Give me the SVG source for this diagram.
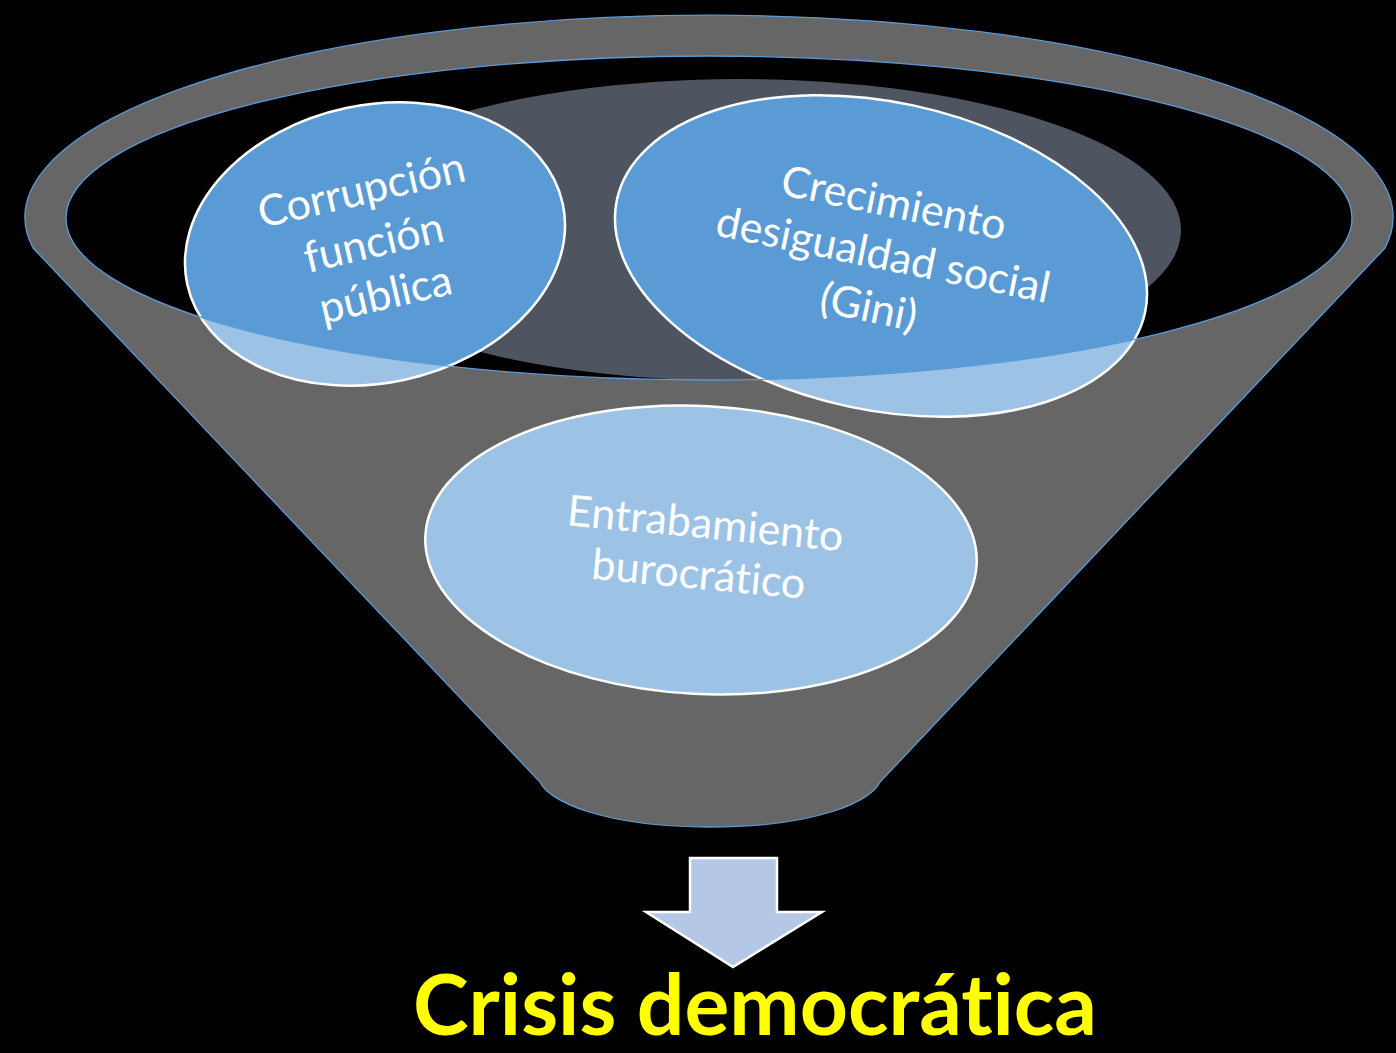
<svg xmlns="http://www.w3.org/2000/svg" width="1396" height="1053" viewBox="0 0 1396 1053">
  <style>
    text { font-variant-ligatures: none; font-feature-settings: "liga" 0, "dlig" 0; }
    .bubble { fill: #5b9bd5; stroke: #ffffff; stroke-width: 2.5; }
    .btxt { fill: #ffffff; font-family: Lato, "Open Sans", "Liberation Sans", sans-serif; font-size: 43px; text-anchor: middle; }
    .funnel { fill: #ffffff; fill-opacity: 0.4; fill-rule: evenodd; stroke: #5b9bd5; stroke-width: 1.3; }
    .title { fill: #ffff00; font-family: Lato, "Liberation Sans", sans-serif; font-weight: bold; font-size: 84px; text-anchor: middle; }
  </style>
  <defs>
    <clipPath id="mouth">
      <ellipse cx="709" cy="218" rx="643" ry="162"/>
    </clipPath>
  </defs>
  <rect x="0" y="0" width="1396" height="1053" fill="#000000"/>

  <g id="funnel-inner">
    <ellipse cx="740" cy="230" rx="441" ry="151" fill="#4f5560" clip-path="url(#mouth)"/>
  </g>

  <g id="node-corrupcion">
    <ellipse class="bubble" cx="375" cy="244" rx="192" ry="139" transform="rotate(-12 375 244)"/>
    <g transform="translate(375 244) rotate(-13)">
      <text class="btxt" x="-1" y="-41">Corrupción</text>
      <text class="btxt" x="-1" y="13">función</text>
      <text class="btxt" x="-1" y="66">pública</text>
    </g>
  </g>

  <g id="node-crecimiento">
    <ellipse class="bubble" cx="881" cy="256" rx="270" ry="154" transform="rotate(12 881 256)"/>
    <g transform="translate(881 256) rotate(11.5)">
      <text class="btxt" x="2" y="-40">Crecimiento</text>
      <text class="btxt" x="2" y="13">desigualdad social</text>
      <text class="btxt" x="-2" y="67">(Gini)</text>
    </g>
  </g>

  <g id="node-entrabamiento">
    <ellipse class="bubble" cx="701" cy="550" rx="276" ry="144" transform="rotate(3 701 550)"/>
    <g transform="translate(701 550) rotate(5.4)">
      <text class="btxt" x="2" y="-12" font-size="44">Entrabamiento</text>
      <text class="btxt" x="0" y="39" font-size="44">burocrático</text>
    </g>
  </g>

  <g id="funnel">
    <path class="funnel" d="M 33 248 A 684 202 0 1 1 1385 248 L 880 782 C 872 800 820 827 710 827 C 600 827 548 800 540 782 Z M 66 218 A 643 162 0 1 0 1352 218 A 643 162 0 1 0 66 218 Z"/>
  </g>

  <g id="connectors">
    <path d="M 690 858 L 777 858 L 777 912 L 822 912 L 733 967 L 646 912 L 690 912 Z" fill="#b4c7e7" stroke="#ffffff" stroke-width="2.5" stroke-linejoin="miter"/>
  </g>

  <g id="node-crisis">
    <text class="title" x="755" y="1035">Crisis democrática</text>
  </g>
</svg>
